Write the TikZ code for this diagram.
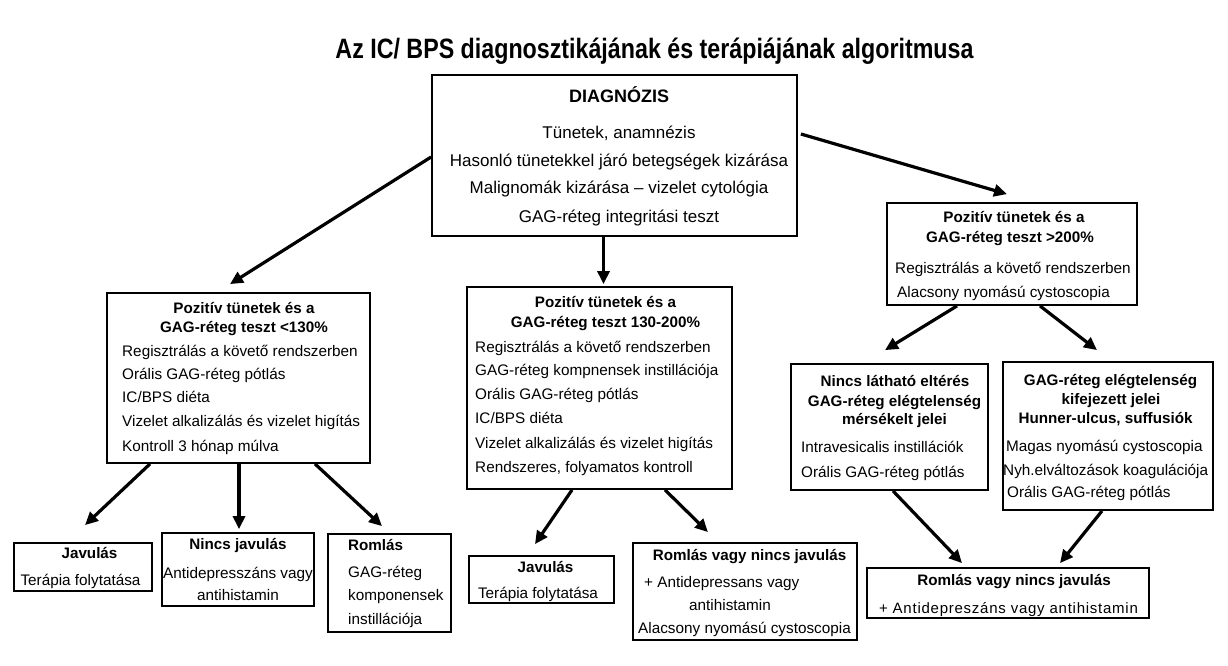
\documentclass[tikz,border=0pt]{standalone}
\usepackage{fontspec}
\setmainfont{Liberation Sans}
\newfontfamily\titlefont[FakeStretch=0.83]{Liberation Sans}
\newfontfamily\spfont[LetterSpace=5]{Liberation Sans}
\usetikzlibrary{arrows.meta}
\tikzset{
  box/.style={draw, line width=1.8pt, inner sep=0pt},
  it/.style={font=\fontsize{15.3}{18}\selectfont, inner sep=0pt, anchor=mid west, yshift=-2.5pt},
  itc/.style={font=\fontsize{15.3}{18}\selectfont, inner sep=0pt, anchor=mid, yshift=-2.5pt},
  hd/.style={font=\bfseries\fontsize{15.2}{18}\selectfont, inner sep=0pt, anchor=mid, yshift=-2.5pt},
  hdw/.style={font=\bfseries\fontsize{15.2}{18}\selectfont, inner sep=0pt, anchor=mid west, yshift=-2.5pt},
  dt/.style={font=\fontsize{17}{20}\selectfont, inner sep=0pt, anchor=mid, yshift=-2.5pt},
  arr/.style={line width=3.2pt, -{Triangle[length=13pt,width=12pt]}},
}
\begin{document}
\begin{tikzpicture}[x=1pt,y=-1pt]
\useasboundingbox[fill=white] (0,0) rectangle (1228,665);
% title
\node[font=\titlefont\bfseries\fontsize{28}{32}\selectfont, inner sep=0pt, anchor=base] (title) at (654.5,58) {Az IC/ BPS diagnosztikájának és terápiájának algoritmusa};
% boxes
\node[box, minimum width=365pt, minimum height=161pt] (diag) at (614.5,155.5) {};
\node[box, minimum width=263pt, minimum height=170pt] (L) at (238.5,378) {};
\node[box, minimum width=265pt, minimum height=202pt] (M) at (599.5,388) {};
\node[box, minimum width=250pt, minimum height=102pt] (R) at (1012,254) {};
\node[box, minimum width=197pt, minimum height=126pt] (RA) at (889.5,427) {};
\node[box, minimum width=210pt, minimum height=148pt] (RB) at (1108,436) {};
\node[box, minimum width=138pt, minimum height=48pt] (BL1) at (83,567) {};
\node[box, minimum width=152pt, minimum height=73pt] (BL2) at (238,569.5) {};
\node[box, minimum width=123pt, minimum height=98pt] (BL3) at (389.5,583) {};
\node[box, minimum width=145pt, minimum height=47pt] (BM1) at (541.5,579.5) {};
\node[box, minimum width=224pt, minimum height=97pt] (BM2) at (745,591.5) {};
\node[box, minimum width=282pt, minimum height=50pt] (BR) at (1008,593) {};
% diagnosis text
\node[font=\bfseries\fontsize{18}{21}\selectfont, inner sep=0pt, anchor=mid, yshift=-2.5pt] (d0) at (619,97) {DIAGNÓZIS};
\node[dt] (d1) at (619,133) {Tünetek, anamnézis};
\node[dt] (d2) at (619,161) {Hasonló tünetekkel járó betegségek kizárása};
\node[dt] (d3) at (619,188) {Malignomák kizárása – vizelet cytológia};
\node[dt] (d4) at (619,217) {GAG-réteg integritási teszt};
% L text
\node[hd] (l0) at (244,308) {Pozitív tünetek és a};
\node[hd] (l1) at (244,327) {GAG-réteg teszt <130\%};
\node[it] (l2) at (122,351) {Regisztrálás a követő rendszerben};
\node[it] (l3) at (122,374) {Orális GAG-réteg pótlás};
\node[it] (l4) at (122,397) {IC/BPS diéta};
\node[it] (l5) at (122,421) {Vizelet alkalizálás és vizelet higítás};
\node[it] (l6) at (122,446) {Kontroll 3 hónap múlva};
% M text
\node[hd] (m0) at (605.5,302) {Pozitív tünetek és a};
\node[hd] (m1) at (605.5,322) {GAG-réteg teszt 130-200\%};
\node[it] (m2) at (475,347) {Regisztrálás a követő rendszerben};
\node[it] (m3) at (475,370) {GAG-réteg kompnensek instillációja};
\node[it] (m4) at (475,394) {Orális GAG-réteg pótlás};
\node[it] (m5) at (475,418) {IC/BPS diéta};
\node[it] (m6) at (475,443) {Vizelet alkalizálás és vizelet higítás};
\node[it] (m7) at (475,467) {Rendszeres, folyamatos kontroll};
% R text
\node[hd] (r0) at (1014,217) {Pozitív tünetek és a};
\node[hd] (r1) at (1010,237) {GAG-réteg teszt >200\%};
\node[it] (r2) at (895,268) {Regisztrálás a követő rendszerben};
\node[it] (r3) at (897,292) {Alacsony nyomású cystoscopia};
% RA text
\node[hd] (ra0) at (895,381) {Nincs látható eltérés};
\node[hd] (ra1) at (894.5,401) {GAG-réteg elégtelenség};
\node[hd] (ra2) at (894.5,419) {mérsékelt jelei};
\node[it] (ra3) at (801,447) {Intravesicalis instillációk};
\node[it] (ra4) at (801,472) {Orális GAG-réteg pótlás};
% RB text
\node[hd] (rb0) at (1110.5,380) {GAG-réteg elégtelenség};
\node[hd] (rb1) at (1111,399) {kifejezett jelei};
\node[hd] (rb2) at (1105.5,418) {Hunner-ulcus, suffusiók};
\node[it] (rb3) at (1006,446) {Magas nyomású cystoscopia};
\node[it] (rb4) at (1003,470) {Nyh.elváltozások koagulációja};
\node[it] (rb5) at (1007,492) {Orális GAG-réteg pótlás};
% bottom left
\node[hd] (bl10) at (89.5,553) {Javulás};
\node[itc] (bl11) at (80.5,580) {Terápia folytatása};
\node[hd] (bl20) at (238,544) {Nincs javulás};
\node[itc] (bl21) at (238,573) {Antidepresszáns vagy};
\node[itc] (bl22) at (238,595) {antihistamin};
\node[hdw] (bl30) at (348,545) {Romlás};
\node[it] (bl31) at (348,572) {GAG-réteg};
\node[it] (bl32) at (348,595) {komponensek};
\node[it] (bl33) at (348,619) {instillációja};
% bottom middle
\node[hd] (bm10) at (545.5,567) {Javulás};
\node[itc] (bm11) at (538,593) {Terápia folytatása};
\node[hd] (bm20) at (749.5,555) {Romlás vagy nincs javulás};
\node[it] (bm21) at (644,582) {+ Antidepressans vagy};
\node[it] (bm22) at (689,605) {antihistamin};
\node[it] (bm23) at (638,628) {Alacsony nyomású cystoscopia};
% bottom right
\node[hd] (br0) at (1014,580) {Romlás vagy nincs javulás};
\node[font=\spfont\fontsize{15}{18}\selectfont, inner sep=0pt, anchor=mid, yshift=-2.5pt] (br1) at (1008.5,608) {+ Antidepreszáns vagy antihistamin};
% arrows
\draw[arr] ([shift={(0,1.5)}]diag.west) -- ([shift={(-8.5,-8)}]L.north);
\draw[arr] ([shift={(-11,0)}]diag.south) -- ([shift={(4,-2)}]M.north);
\draw[arr] ([shift={(3,-21.5)}]diag.east) -- ([shift={(-5,-8)}]R.north);
\draw[arr] ([shift={(-88.5,0)}]L.south) -- ([shift={(2,-17)}]BL1.north);
\draw[arr] ([shift={(0.5,0)}]L.south) -- ([shift={(1,-3)}]BL2.north);
\draw[arr] ([shift={(76.5,0)}]L.south) -- ([shift={(-7.5,-7)}]BL3.north);
\draw[arr] ([shift={(-27.5,0)}]M.south) -- ([shift={(-6.5,-11)}]BM1.north);
\draw[arr] ([shift={(65.5,0)}]M.south) -- ([shift={(-37,-10)}]BM2.north);
\draw[arr] ([shift={(-55,0)}]R.south) -- ([shift={(-4.5,-13)}]RA.north);
\draw[arr] ([shift={(28,0)}]R.south) -- ([shift={(-11,-11)}]RB.north);
\draw[arr] ([shift={(3.5,0)}]RA.south) -- ([shift={(-46,-4)}]BR.north);
\draw[arr] ([shift={(-6,0)}]RB.south) -- ([shift={(52,-4)}]BR.north);
\end{tikzpicture}
\end{document}
